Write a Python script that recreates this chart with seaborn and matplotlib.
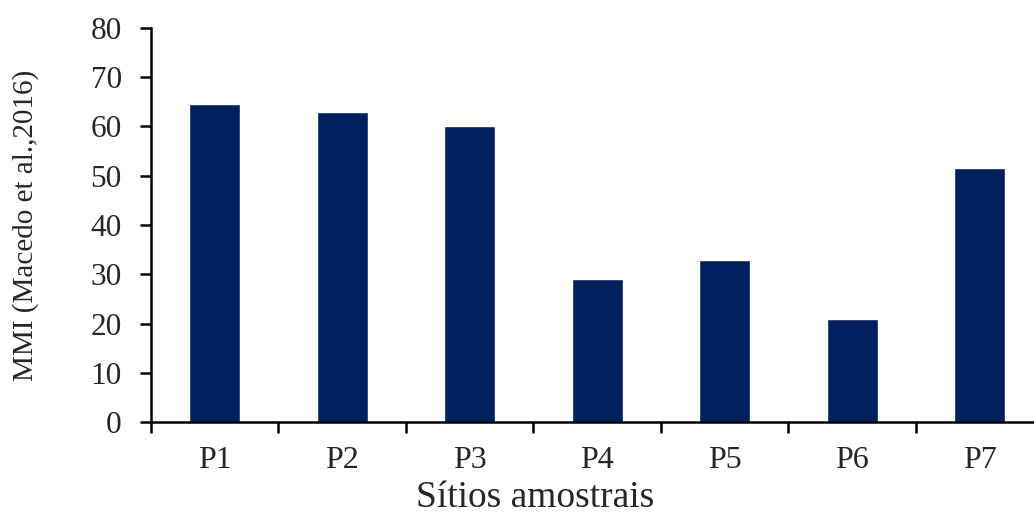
import pandas as pd
import seaborn as sns
import matplotlib.pyplot as plt

# valores
sitios = ['P1', 'P2', 'P3', 'P4', 'P5', 'P6', 'P7']
mmi = [64.6, 62.9, 60.1, 29.0, 32.9, 20.9, 51.6]

df = pd.DataFrame({'Sitio': sitios, 'MMI': mmi})

sns.set_style('ticks')
plt.rcParams['font.family'] = ['Liberation Serif', 'DejaVu Serif']

fig = plt.figure(figsize=(10.34, 5.16), dpi=100)
ax = fig.add_axes([0.146, 0.182, 0.863, 0.764])

sns.barplot(x='Sitio', y='MMI', data=df, color='#02205e', width=0.4,
            saturation=1, ax=ax)

ax.set_ylim(0, 80)
ax.set_yticks(range(0, 81, 10))
ax.set_xlim(-0.5, 6.5)
ax.set_xticks([i - 0.5 for i in range(8)], minor=False)
ax.set_xticklabels([])
ax.set_xticks(range(7), minor=True)
ax.set_xticklabels(sitios, minor=True, fontsize=23)
ax.tick_params(axis='x', which='minor', length=0, pad=17)
ax.tick_params(axis='x', which='major', length=8, width=1.8, direction='out', color='black')
ax.tick_params(axis='y', length=8, width=1.8, direction='out', labelsize=22.5, pad=13, color='black')

sns.despine(ax=ax)
for s in ['left', 'bottom']:
    ax.spines[s].set_linewidth(1.8)
    ax.spines[s].set_color('black')

ax.set_xlabel('Sítios amostrais', fontsize=27, labelpad=4, x=0.43)
ax.set_ylabel('MMI (Macedo et al.,2016)', fontsize=21, labelpad=37)

plt.savefig('out.png', dpi=100)
